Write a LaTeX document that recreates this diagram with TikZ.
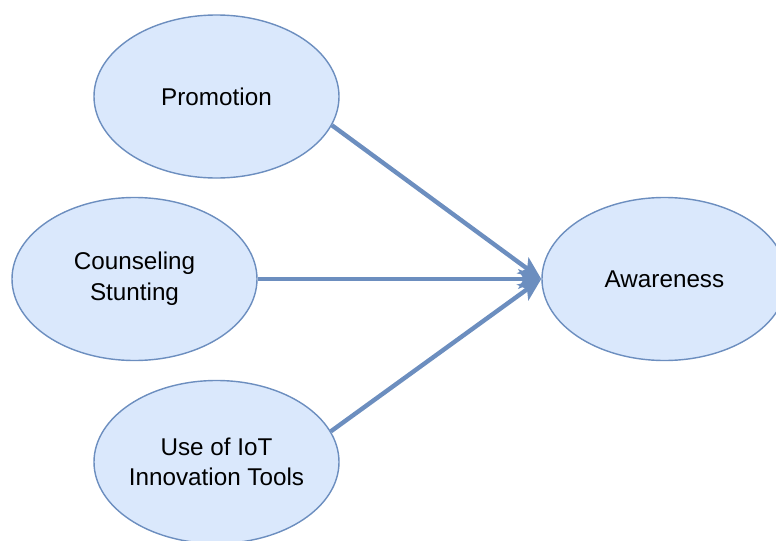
\documentclass[tikz,border=0pt]{standalone}
\usepackage{fontspec}
\setmainfont{Liberation Sans}
\usepackage{xcolor}
\usepackage{tikz}
\usetikzlibrary{shapes.geometric, arrows.meta, positioning}
\definecolor{factorfill}{HTML}{DAE8FC}
\definecolor{factorline}{HTML}{6C8EBF}
\tikzstyle{factor} = [ellipse, draw=factorline, line width=0.8pt, fill=factorfill, minimum width=4.9cm, minimum height=3.26cm, inner xsep=-4pt, inner ysep=0pt, align=center, font=\fontsize{13.8}{17.4}\selectfont]
\tikzstyle{arrow} = [-{Stealth[length=13pt, width=11pt, inset=3pt]}, draw=factorline, line width=2.5pt]

\begin{document}
\begin{tikzpicture}[node distance=3.65cm and 1.64cm, on grid]
\useasboundingbox (0,0) rectangle (15.52,-10.82);

\node[factor] (promotion) at (4.33,-1.93) {Promotion};
\node[factor, below left=3.65cm and 1.64cm of promotion] (counseling) {Counseling\\Stunting};
\node[factor, below right=3.66cm and 1.64cm of counseling] (iot) {Use of IoT\\Innovation Tools};

% outcome on the right
\node[factor, right=10.6cm of counseling] (awareness) {Awareness};

% arrows into awareness
\draw[arrow] (promotion.-14) -- (awareness.west);
\draw[arrow] (counseling.east) -- (awareness.west);
\draw[arrow] (iot.15) -- (awareness.west);

\end{tikzpicture}
\end{document}
